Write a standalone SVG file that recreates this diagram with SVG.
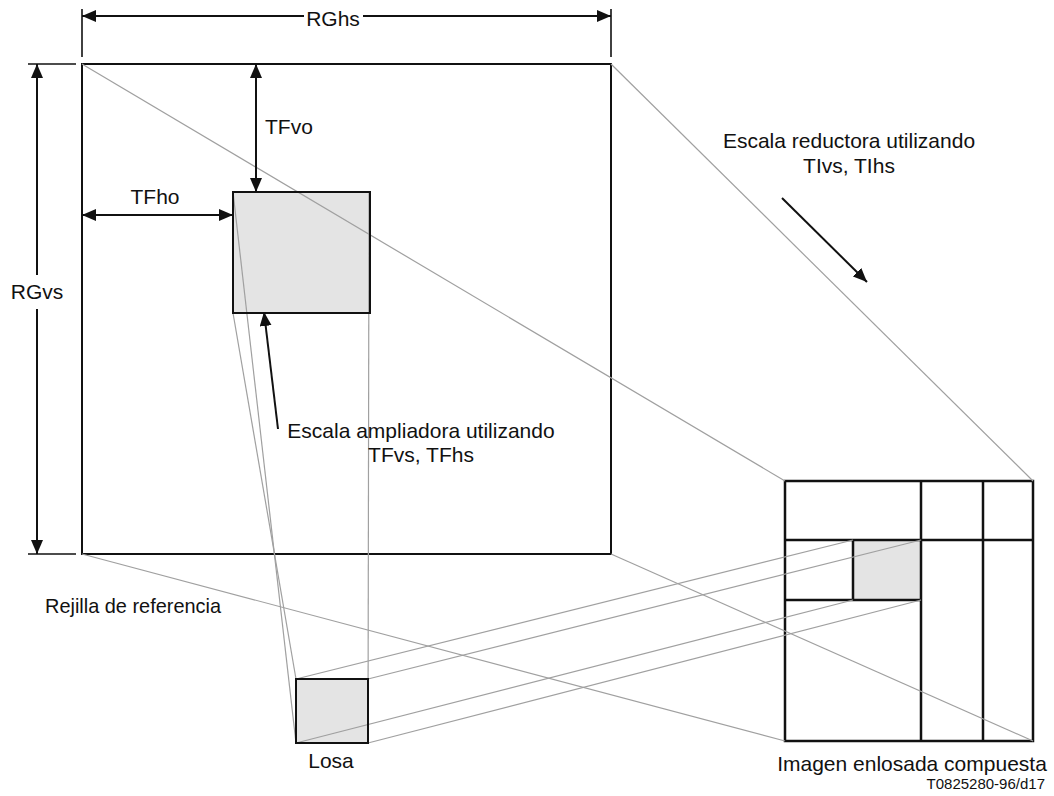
<svg xmlns="http://www.w3.org/2000/svg" width="1054" height="796" viewBox="0 0 1054 796">
  <style>
    .txt { font-family: "Liberation Sans", Arial, sans-serif; font-size: 21px; fill: #111; }
    .small { font-size: 15px; }
    .frame { fill: #fff; stroke: #111; stroke-width: 2; }
    .tile { fill: #e4e4e4; stroke: #111; stroke-width: 2; }
    .grid { fill: none; stroke: #111; stroke-width: 2.5; }
    .proj { stroke: #a0a0a0; stroke-width: 1.2; fill: none; }
    .dim { stroke: #111; stroke-width: 2; fill: none; }
    .tick { stroke: #111; stroke-width: 1.6; fill: none; }
  </style>
  <defs>
    <marker id="head" viewBox="0 0 14 12" refX="14" refY="6" markerWidth="14" markerHeight="12" markerUnits="userSpaceOnUse" orient="auto">
      <path d="M0,0 L14,6 L0,12 z" fill="#111"/>
    </marker>
  </defs>

  <rect width="1054" height="796" fill="#fff"/>

  <!-- reference grid -->
  <g id="reference-grid">
    <rect class="frame" x="82" y="64" width="529" height="490"/>
    <text class="txt" x="45" y="613" textLength="176" lengthAdjust="spacingAndGlyphs">Rejilla de referencia</text>
  </g>

  <!-- target field inside the grid -->
  <g id="target-field">
    <rect class="tile" x="233" y="192" width="137" height="121"/>
  </g>

  <!-- tile -->
  <g id="losa">
    <rect class="tile" x="296" y="679" width="72" height="64"/>
    <text class="txt" x="331" y="768" text-anchor="middle">Losa</text>
  </g>

  <!-- composite tiled picture -->
  <g id="tiled-image">
    <rect x="853" y="540" width="68" height="60" fill="#e4e4e4"/>
    <rect class="grid" x="785" y="481" width="248" height="260"/>
    <path class="grid" d="M921,481 V741 M983,481 V741 M785,540 H1033 M785,600 H921 M853,540 V600"/>
    <text class="txt" x="912" y="771" text-anchor="middle">Imagen enlosada compuesta</text>
  </g>

  <!-- projection lines -->
  <g id="connectors">
    <line class="proj" x1="82" y1="64" x2="785" y2="481"/>
    <line class="proj" x1="611" y1="64" x2="1033" y2="481"/>
    <line class="proj" x1="82" y1="554" x2="785" y2="741"/>
    <line class="proj" x1="611" y1="554" x2="1033" y2="741"/>
    <line class="proj" x1="233" y1="192" x2="296" y2="743"/>
    <line class="proj" x1="233" y1="313" x2="296" y2="679"/>
    <line class="proj" x1="369" y1="192" x2="368" y2="743"/>
    <line class="proj" x1="296" y1="679" x2="853" y2="540"/>
    <line class="proj" x1="368" y1="679" x2="921" y2="540"/>
    <line class="proj" x1="296" y1="743" x2="853" y2="600"/>
    <line class="proj" x1="368" y1="743" x2="921" y2="600"/>
  </g>

  <!-- outlines redrawn over projection lines -->
  <g id="outlines">
    <rect x="233" y="192" width="137" height="121" fill="none" stroke="#111" stroke-width="2"/>
    <rect x="296" y="679" width="72" height="64" fill="none" stroke="#111" stroke-width="2"/>
  </g>

  <!-- dimensions -->
  <g id="dimensions">
    <line class="tick" x1="82" y1="9" x2="82" y2="57"/>
    <line class="tick" x1="611" y1="9" x2="611" y2="57"/>
    <line class="dim" x1="304" y1="16" x2="82" y2="16" marker-end="url(#head)"/>
    <line class="dim" x1="363" y1="16" x2="611" y2="16" marker-end="url(#head)"/>
    <text class="txt" x="333" y="26" text-anchor="middle">RGhs</text>

    <line class="tick" x1="28" y1="64" x2="76" y2="64"/>
    <line class="tick" x1="28" y1="554" x2="76" y2="554"/>
    <line class="dim" x1="37" y1="275" x2="37" y2="64" marker-end="url(#head)"/>
    <line class="dim" x1="37" y1="309" x2="37" y2="554" marker-end="url(#head)"/>
    <text class="txt" x="37" y="299" text-anchor="middle">RGvs</text>

    <line class="dim" x1="150" y1="215" x2="82" y2="215" marker-end="url(#head)"/>
    <line class="dim" x1="150" y1="215" x2="233" y2="215" marker-end="url(#head)"/>
    <text class="txt" x="155" y="204" text-anchor="middle">TFho</text>

    <line class="dim" x1="256" y1="130" x2="256" y2="64" marker-end="url(#head)"/>
    <line class="dim" x1="256" y1="130" x2="256" y2="192" marker-end="url(#head)"/>
    <text class="txt" x="265" y="134">TFvo</text>
  </g>

  <!-- scaling notes -->
  <g id="upscale-note">
    <line class="dim" x1="278" y1="429" x2="264" y2="312" marker-end="url(#head)"/>
    <text class="txt" x="421" y="438" text-anchor="middle">Escala ampliadora utilizando</text>
    <text class="txt" x="421" y="462" text-anchor="middle">TFvs, TFhs</text>
  </g>

  <g id="downscale-note">
    <line class="dim" x1="782" y1="198" x2="867" y2="282" marker-end="url(#head)"/>
    <text class="txt" x="849" y="148" text-anchor="middle">Escala reductora utilizando</text>
    <text class="txt" x="849" y="173" text-anchor="middle">TIvs, TIhs</text>
  </g>

  <text class="txt small" x="1045" y="789" text-anchor="end">T0825280-96/d17</text>
</svg>
